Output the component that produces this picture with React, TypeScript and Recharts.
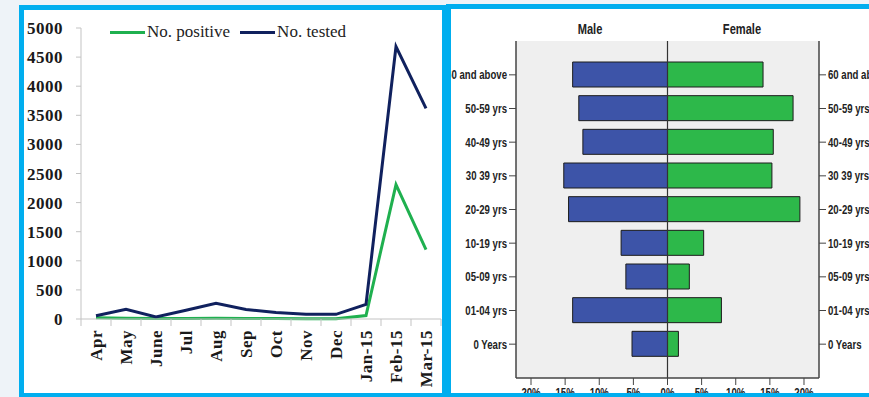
import React from 'react';
import {
  LineChart,
  Line,
  XAxis,
  YAxis,
  Legend,
  BarChart,
  Bar,
  CartesianGrid,
  ReferenceLine,
} from 'recharts';

// ---- Monthly testing data (Apr 2014 – Mar 2015) ----
const months = ['Apr', 'May', 'June', 'Jul', 'Aug', 'Sep', 'Oct', 'Nov', 'Dec', 'Jan-15', 'Feb-15', 'Mar-15'];
const positiveCounts = [20, 15, 10, 10, 15, 10, 10, 5, 5, 60, 2310, 1190];
const testedCounts = [55, 165, 35, 150, 270, 165, 110, 80, 80, 250, 4680, 3620];
const countTicks = [0, 500, 1000, 1500, 2000, 2500, 3000, 3500, 4000, 4500, 5000];

// ---- Age / sex distribution (% of each sex) ----
const ageGroups = ['60 and above', '50-59 yrs', '40-49 yrs', '30 39 yrs', '20-29 yrs', '10-19 yrs', '05-09 yrs', '01-04 yrs', '0 Years'];
const malePct = [13.9, 13.0, 12.4, 15.2, 14.5, 6.8, 6.1, 13.9, 5.2];
const femalePct = [14.0, 18.4, 15.5, 15.3, 19.4, 5.3, 3.2, 7.9, 1.6];
const pctTicks = [-20, -15, -10, -5, 0, 5, 10, 15, 20];
const pctDomain: [number, number] = [-22.2, 22.2];

const monthlyRows = months.map((m, i) => ({
  month: m,
  positive: positiveCounts[i],
  tested: testedCounts[i],
}));

// male bars extend to the left, so they are plotted as negative values
const pyramidRows = ageGroups.map((g, i) => ({
  group: g,
  male: -malePct[i],
  female: femalePct[i],
}));

const BORDER_BLUE = '#00aeef';
const GREEN_LINE = '#1fb04f';
const NAVY_LINE = '#10215e';
const MALE_BLUE = '#3d54a8';
const FEMALE_GREEN = '#2db84a';
const AXIS_GREY = '#c3c3c3';

const SERIF = "'Liberation Serif', 'DejaVu Serif', serif";
const SANS = "'Liberation Sans', Arial, sans-serif";
// horizontal squeeze that turns Liberation Sans into a narrow face
const NARROW_SCALE = 0.74;

// Month labels rotated -90°, with tick marks between categories
const MonthTick = (props: any) => {
  const { x, y, payload, width, visibleTicksCount, index } = props;
  const half = Number(width) / Number(visibleTicksCount) / 2;
  const okHalf = Number.isFinite(half);
  const ty = y + 11;
  return (
    <g>
      {okHalf && <line x1={x - half} x2={x - half} y1={y} y2={y + 7} stroke={AXIS_GREY} />}
      {okHalf && index === visibleTicksCount - 1 && (
        <line x1={x + half} x2={x + half} y1={y} y2={y + 7} stroke={AXIS_GREY} />
      )}
      <text
        x={x}
        y={ty}
        transform={`rotate(-90 ${x} ${ty})`}
        textAnchor="end"
        dominantBaseline="central"
        fontFamily={SERIF}
        fontWeight="bold"
        fontSize={17}
        letterSpacing={0.5}
        fill="#1a1a1a"
      >
        {payload.value}
      </text>
    </g>
  );
};

// Narrow bold tick label for the pyramid axes
const NarrowTick = (props: any) => {
  const { x, y, payload, textAnchor, tickFormatter, index, verticalAnchor } = props;
  const label = tickFormatter ? tickFormatter(payload.value, index) : payload.value;
  const dy = verticalAnchor === 'start' ? '0.71em' : '0.355em';
  return (
    <g transform={`translate(${x},${y}) scale(${NARROW_SCALE},1)`}>
      <text
        x={0}
        y={0}
        dy={dy}
        textAnchor={textAnchor}
        fontFamily={SANS}
        fontWeight="bold"
        fontSize={13}
        fill="#222"
      >
        {label}
      </text>
    </g>
  );
};

const LineLegend = (props: any) => {
  const items = props.payload || [];
  return (
    <div style={{ display: 'flex', alignItems: 'center', fontFamily: SERIF, fontSize: 17, color: '#222', whiteSpace: 'nowrap' }}>
      {items.map((p: any) => (
        <div key={p.value} style={{ display: 'flex', alignItems: 'center', marginRight: 10 }}>
          <span style={{ display: 'inline-block', width: 35, height: 3, background: p.color, marginRight: 2 }} />
          <span>{p.value}</span>
        </div>
      ))}
    </div>
  );
};

function TestingChart() {
  return (
    <LineChart width={418} height={383} data={monthlyRows} margin={{ top: 18, right: 1, bottom: 0, left: 0 }}>
      <XAxis
        dataKey="month"
        scale="band"
        height={74}
        interval={0}
        tickSize={0}
        tickMargin={0}
        tickLine={false}
        axisLine={{ stroke: AXIS_GREY }}
        tick={<MonthTick />}
      />
      <YAxis
        width={57}
        domain={[0, 5000]}
        ticks={countTicks}
        interval={0}
        tickSize={5}
        tickMargin={13}
        axisLine={{ stroke: AXIS_GREY }}
        tickLine={{ stroke: AXIS_GREY }}
        tick={{ fontFamily: SERIF, fontWeight: 'bold', fontSize: 17, fill: '#1a1a1a', letterSpacing: 0.5 }}
      />
      <Legend
        verticalAlign="middle"
        align="center"
        content={<LineLegend />}
        wrapperStyle={{ top: 12, left: 86, width: 'auto' }}
      />
      <Line
        type="linear"
        dataKey="positive"
        name="No. positive"
        stroke={GREEN_LINE}
        strokeWidth={3}
        dot={false}
        isAnimationActive={false}
      />
      <Line
        type="linear"
        dataKey="tested"
        name="No. tested"
        stroke={NAVY_LINE}
        strokeWidth={3}
        dot={false}
        isAnimationActive={false}
      />
    </LineChart>
  );
}

function PyramidChart() {
  const frame = { stroke: '#444', strokeWidth: 1.5 };
  return (
    <BarChart
      width={430}
      height={400}
      layout="vertical"
      data={pyramidRows}
      stackOffset="sign"
      barSize={25}
      margin={{ top: 32, right: 0, bottom: 0, left: 0 }}
    >
      <CartesianGrid horizontal={false} vertical={false} fill="#efefef" />
      <XAxis
        type="number"
        domain={pctDomain}
        ticks={pctTicks}
        interval={0}
        height={31}
        tickSize={7}
        tickMargin={3}
        axisLine={frame}
        tickLine={{ stroke: '#444' }}
        tick={<NarrowTick />}
        tickFormatter={(v: number) => `${Math.abs(v)}%`}
      />
      <XAxis
        xAxisId="top"
        orientation="top"
        type="number"
        domain={pctDomain}
        height={0}
        tick={false}
        tickLine={false}
        axisLine={frame}
      />
      <YAxis
        type="category"
        dataKey="group"
        width={65}
        interval={0}
        tickSize={7}
        tickMargin={2}
        padding={{ top: 17, bottom: 17 }}
        axisLine={frame}
        tickLine={{ stroke: '#444' }}
        tick={<NarrowTick />}
      />
      <YAxis
        yAxisId="right"
        orientation="right"
        type="category"
        dataKey="group"
        width={62}
        interval={0}
        tickSize={7}
        tickMargin={2}
        padding={{ top: 17, bottom: 17 }}
        axisLine={frame}
        tickLine={{ stroke: '#444' }}
        tick={<NarrowTick />}
      />
      <Bar dataKey="male" stackId="pyramid" fill={MALE_BLUE} stroke="#1c1c1c" strokeWidth={1} isAnimationActive={false} />
      <Bar dataKey="female" stackId="pyramid" fill={FEMALE_GREEN} stroke="#1c1c1c" strokeWidth={1} isAnimationActive={false} />
      <ReferenceLine x={0} stroke="#333" strokeWidth={1.2} />
    </BarChart>
  );
}

const titleStyle: React.CSSProperties = {
  position: 'absolute',
  top: 19,
  transform: `translate(-50%, -50%) scale(${NARROW_SCALE}, 1)`,
  fontFamily: SANS,
  fontWeight: 'bold',
  fontSize: 15,
  color: '#222',
  whiteSpace: 'nowrap',
};

export default function App() {
  return (
    <div style={{ position: 'absolute', left: 0, top: 0, width: 869, height: 397, background: '#eef3f8', overflow: 'hidden' }}>
      <div
        style={{
          position: 'absolute',
          left: 19,
          top: 5,
          width: 418,
          height: 383,
          border: `5px solid ${BORDER_BLUE}`,
          background: '#fff',
          overflow: 'hidden',
        }}
      >
        <TestingChart />
      </div>
      <div
        style={{
          position: 'absolute',
          left: 446,
          top: 4,
          width: 430,
          height: 384,
          border: `5px solid ${BORDER_BLUE}`,
          background: '#fff',
          overflow: 'hidden',
        }}
      >
        <PyramidChart />
        <div style={{ ...titleStyle, left: 139 }}>Male</div>
        <div style={{ ...titleStyle, left: 291 }}>Female</div>
      </div>
    </div>
  );
}
